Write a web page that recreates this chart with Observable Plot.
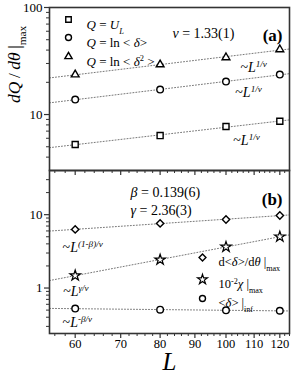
<!DOCTYPE html>
<html>
<head>
<meta charset="utf-8">
<script src="https://cdn.jsdelivr.net/npm/d3@7"></script>
<script src="https://cdn.jsdelivr.net/npm/@observablehq/plot@0.6"></script>
<style>
  body { margin: 0; background: white; }
  #wrap { position: relative; width: 294px; height: 373px; }
  #wrap svg { position: absolute; left: 0; }
</style>
</head>
<body>
<div id="wrap"></div>
<script>
// ---- data ----
const L = [60, 80, 100, 120];
// panel (a)
const qUL = [5.25, 6.36, 7.73, 8.65];
const qLnDelta = [13.8, 17.1, 20.3, 23.6];
const qLnDelta2 = [23.6, 29.3, 34.1, 40.5];
// panel (b)
const dDeltaMax = [6.3, 7.6, 8.6, 9.75];
const chiMax = [1.48, 2.43, 3.64, 5.01];
const deltaInf = [0.524, 0.507, 0.496, 0.49];
// ticks
const xMajor = [60, 70, 80, 90, 100, 110, 120];
const xMinor = [56, 58, 62, 64, 66, 68, 72, 74, 76, 78, 82, 84, 86, 88, 92, 94, 96, 98, 102, 104, 106, 108, 112, 114, 116, 118, 122, 124];
const yMajorA = [10, 100];
const yMinorA = [4, 5, 6, 7, 8, 9, 20, 30, 40, 50, 60, 70, 80, 90];
const yMajorB = [1, 10];
const yMinorB = [0.3, 0.4, 0.5, 0.6, 0.7, 0.8, 0.9, 2, 3, 4, 5, 6, 7, 8, 9, 20, 30];
const xDomain = [55, 124];

const rows = (ys) => L.map((l, i) => ({L: l, v: ys[i]}));
function fit(ys) {
  const lx = L.map(Math.log), ly = ys.map(Math.log);
  const mx = d3.mean(lx), my = d3.mean(ly);
  const b = d3.sum(lx, (x, i) => (x - mx) * (ly[i] - my)) / d3.sum(lx, x => (x - mx) ** 2);
  const a = my - b * mx;
  return xDomain.map(x => ({L: x, v: Math.exp(a + b * Math.log(x))}));
}

const ns = "http://www.w3.org/2000/svg";
function appendRich(parent, s) {
  const re = /(\^\{[^}]*\}|_\{[^}]*\}|\*[^*]*\*)/g;
  for (const part of s.split(re)) {
    if (!part) continue;
    const t = document.createElementNS(ns, "tspan");
    t.setAttribute("fill", "black");
    if (part.startsWith("^{")) {
      t.setAttribute("baseline-shift", "super"); t.style.fontSize = "65%";
      appendRich(t, part.slice(2, -1));
    } else if (part.startsWith("_{")) {
      t.setAttribute("baseline-shift", "sub"); t.style.fontSize = "65%";
      appendRich(t, part.slice(2, -1));
    } else if (part.length > 1 && part.startsWith("*") && part.endsWith("*")) {
      t.setAttribute("font-style", "italic");
      t.textContent = part.slice(1, -1);
    } else {
      t.textContent = part;
    }
    parent.appendChild(t);
  }
}
function richify(svg) {
  d3.select(svg).selectAll("text").each(function() {
    const s = this.textContent;
    if (!/[\^_*]/.test(s)) return;
    this.textContent = "";
    appendRich(this, s);
  });
}

const axisColor = "#333";
const dotted = {stroke: "#777", strokeWidth: 1, strokeDasharray: "1,2"};
const mk = {fill: "white", stroke: "black", strokeWidth: 1.4};
const style = {fontFamily: "'Liberation Serif', serif", fontSize: "13px", background: "transparent", overflow: "visible", color: "#000"};
const lab = (t, dx, dy, o = {}) => Plot.text([t], {frameAnchor: "top-left", dx, dy, textAnchor: "start", fontSize: 13, text: d => d, ...o});

// ---- panel (a) ----
const plotA = Plot.plot({
  width: 294, height: 173,
  marginLeft: 49, marginRight: 5, marginTop: 7, marginBottom: 3,
  x: {type: "log", domain: xDomain},
  y: {type: "log", domain: [3, 100]},
  style,
  marks: [
    Plot.line(fit(qUL), {x: "L", y: "v", ...dotted}),
    Plot.line(fit(qLnDelta), {x: "L", y: "v", ...dotted}),
    Plot.line(fit(qLnDelta2), {x: "L", y: "v", ...dotted}),
    Plot.dot(rows(qUL), {x: "L", y: "v", symbol: "square", r: 3.4, ...mk}),
    Plot.dot(rows(qLnDelta), {x: "L", y: "v", symbol: "circle", r: 3.3, ...mk}),
    Plot.dot(rows(qLnDelta2), {x: "L", y: "v", symbol: "triangle", r: 2.9, ...mk}),
    Plot.axisX({ticks: xMajor, tickSize: 5, tickFormat: () => "", label: null, stroke: axisColor, strokeWidth: 1.2}),
    Plot.axisX({ticks: xMinor, tickSize: 3, tickFormat: () => "", label: null, stroke: axisColor}),
    Plot.axisY({ticks: yMajorA, tickSize: 5, tickPadding: 2, tickFormat: d => String(d), label: null, fontSize: 13, stroke: axisColor, strokeWidth: 1.2}),
    Plot.axisY({ticks: yMinorA, tickSize: 3, tickFormat: () => "", label: null, stroke: axisColor}),
    Plot.frame({stroke: axisColor, strokeWidth: 1.6}),
    // legend
    Plot.dot([0], {frameAnchor: "top-left", dx: 19, dy: 12, symbol: "square", r: 3.1, ...mk}),
    Plot.dot([0], {frameAnchor: "top-left", dx: 19, dy: 30, symbol: "circle", r: 3.0, ...mk}),
    Plot.dot([0], {frameAnchor: "top-left", dx: 19, dy: 49, symbol: "triangle", r: 2.7, ...mk}),
    lab("*Q* = *U*_{*L*}", 37, 12),
    lab("*Q* = ln < *δ*>", 37, 30),
    lab("*Q* = ln < *δ*^{2} >", 37, 49),
    // annotations
    lab("*ν* = 1.33(1)", 123, 21, {fontSize: 14}),
    Plot.text(["(a)"], {frameAnchor: "top-right", dx: -7, dy: 21, textAnchor: "end", fontSize: 17, fontWeight: "bold", text: d => d}),
    Plot.text([{L: 105, v: 27.5}, {L: 103.2, v: 16.1}, {L: 102.5, v: 5.7}], {x: "L", y: "v", text: () => "~*L*^{*1/ν*}", textAnchor: "start", fontSize: 14}),
    // y label
    Plot.text(["*dQ*\u2009/\u2009*dθ*\u2009|_{max}"], {frameAnchor: "left", lineAnchor: "middle", dx: -35, dy: 14, rotate: -90, fontSize: 17.5, text: d => d})
  ]
});

// ---- panel (b) ----
const plotB = Plot.plot({
  width: 294, height: 203,
  marginLeft: 49, marginRight: 5, marginTop: 0, marginBottom: 40,
  x: {type: "log", domain: xDomain},
  y: {type: "log", domain: [0.24, 40]},
  style,
  marks: [
    Plot.line(fit(dDeltaMax), {x: "L", y: "v", ...dotted}),
    Plot.line(fit(chiMax), {x: "L", y: "v", ...dotted}),
    Plot.line(fit(deltaInf), {x: "L", y: "v", ...dotted}),
    Plot.dot(rows(dDeltaMax), {x: "L", y: "v", symbol: "diamond2", r: 3.3, ...mk}),
    Plot.dot(rows(chiMax), {x: "L", y: "v", symbol: "star", r: 3.3, ...mk, strokeWidth: 1.2}),
    Plot.dot(rows(deltaInf), {x: "L", y: "v", symbol: "circle", r: 3.3, ...mk}),
    Plot.axisX({ticks: xMajor, tickSize: 5, tickPadding: 1, tickFormat: d => String(d), label: null, fontSize: 12.5, stroke: axisColor, strokeWidth: 1.2}),
    Plot.axisX({ticks: xMinor, tickSize: 3, tickFormat: () => "", label: null, stroke: axisColor}),
    Plot.axisY({ticks: yMajorB, tickSize: 5, tickPadding: 2, tickFormat: d => String(d), label: null, fontSize: 13, stroke: axisColor, strokeWidth: 1.2}),
    Plot.axisY({ticks: yMinorB, tickSize: 3, tickFormat: () => "", label: null, stroke: axisColor}),
    Plot.frame({stroke: axisColor, strokeWidth: 1.6}),
    // legend
    Plot.dot([0], {frameAnchor: "top-left", dx: 153, dy: 87, symbol: "diamond2", r: 3.1, ...mk}),
    Plot.dot([0], {frameAnchor: "top-left", dx: 153, dy: 109, symbol: "star", r: 3.1, ...mk, strokeWidth: 1.2}),
    Plot.dot([0], {frameAnchor: "top-left", dx: 153, dy: 128, symbol: "circle", r: 3.0, ...mk}),
    lab("d<*δ*>/d*θ* |_{max}", 169, 87, {fontSize: 12.5}),
    lab("10^{-2}*χ* |_{max}", 169, 109, {fontSize: 12.5}),
    lab("<*δ*> |_{inf}", 169, 128, {fontSize: 12.5}),
    // annotations
    lab("*β* = 0.139(6)", 81, 17, {fontSize: 14}),
    lab("*γ* = 2.36(3)", 81, 35, {fontSize: 14}),
    Plot.text(["(b)"], {frameAnchor: "top-right", dx: -7, dy: 22, textAnchor: "end", fontSize: 17, fontWeight: "bold", text: d => d}),
    Plot.text([{L: 57.5, v: 3.57, t: "~*L*^{*(1-β)/ν*}"}, {L: 57.6, v: 0.90, t: "~*L*^{*γ/ν*}"}, {L: 57.5, v: 0.34, t: "~*L*^{*-β/ν*}"}], {x: "L", y: "v", text: "t", textAnchor: "start", fontSize: 14}),
    // x label
    Plot.text(["*L*"], {frameAnchor: "bottom", lineAnchor: "middle", dy: 28, fontSize: 25, text: d => d})
  ]
});

const wrap = document.getElementById("wrap");
plotA.style.top = "0px";
plotB.style.top = "170px";
wrap.appendChild(plotA);
wrap.appendChild(plotB);
richify(plotA);
richify(plotB);
</script>
</body>
</html>
